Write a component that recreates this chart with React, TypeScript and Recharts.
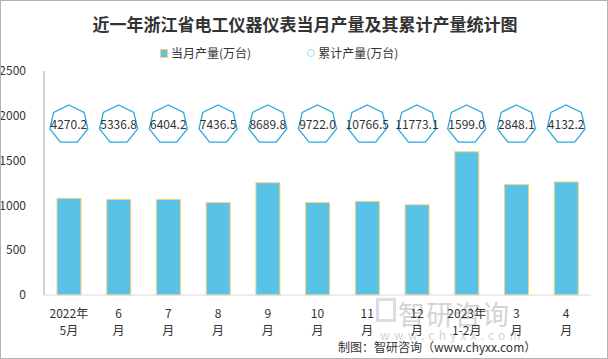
import { ComposedChart, Bar, Line, XAxis, YAxis } from 'recharts'

const months = ['2022年5月', '6月', '7月', '8月', '9月', '10月', '11月', '12月', '2023年1-2月', '3月', '4月']
const tickTop = ['2022年', '6', '7', '8', '9', '10', '11', '12', '2023年', '3', '4']
const tickBottom = ['5月', '月', '月', '月', '月', '月', '月', '月', '1-2月', '月', '月']
const monthly = [1079, 1067, 1067, 1032, 1253, 1032, 1045, 1007, 1599, 1232, 1262]
const cumulative = [4270.2, 5336.8, 6404.2, 7436.5, 8689.8, 9722.0, 10766.5, 11773.1, 1599.0, 2848.1, 4132.2]
const yTicks = [0, 500, 1000, 1500, 2000, 2500]

const data = months.map((m, i) => ({
  month: m,
  top: tickTop[i],
  bottom: tickBottom[i],
  value: monthly[i],
  cum: cumulative[i],
}))

const FONT = '"Noto Sans CJK SC", "Noto Sans", sans-serif'
const BAR_FILL = '#59c3e7'
const BAR_EDGE = '#f6d27a'
const HEPTA = '#27a9e1'

function MonthTick(props: any) {
  const { x, y, index } = props
  return (
    <g>
      <text x={x} y={y + 23} textAnchor="middle" fontSize={12} fill="#333">{tickTop[index]}</text>
      <text x={x} y={y + 40} textAnchor="middle" fontSize={12} fill="#333">{tickBottom[index]}</text>
    </g>
  )
}

function Heptagon(props: any) {
  const { cx, index, payload } = props
  if (cx == null) return null
  const cy = 124.5
  const r = 19.5
  const pts = Array.from({ length: 7 }, (_, k) => {
    const a = -Math.PI / 2 + (k * 2 * Math.PI) / 7
    return `${cx + r * Math.cos(a)},${cy + r * Math.sin(a)}`
  }).join(' ')
  return (
    <g key={`h-${index}`}>
      <polygon points={pts} fill="#fff" stroke={HEPTA} strokeWidth={1.3} />
      <text x={cx} y={cy + 4} textAnchor="middle" fontSize={12} fill="#333">
        {payload.cum.toFixed(1)}
      </text>
    </g>
  )
}

export default function App() {
  return (
    <div style={{ position: 'absolute', left: 0, top: 0, width: 608, height: 359, background: '#fff', fontFamily: FONT }}>
      {/* watermark */}
      <div style={{ position: 'absolute', left: 398, top: 294, fontSize: 27, color: '#d4d4d4', letterSpacing: 1 }}>智研咨询</div>
      <div style={{ position: 'absolute', left: 376, top: 298, width: 20, height: 24, border: '3px solid #d6dde6', boxSizing: 'border-box' }} />
      <div style={{ position: 'absolute', left: 380, top: 326, fontSize: 12, color: '#d4d4d4', letterSpacing: 4.2 }}>www.chyxx.com</div>

      <div style={{ position: 'absolute', left: 0, top: 12, width: 608, textAlign: 'center', paddingLeft: 1 }}>
        <span style={{ fontSize: 17, fontWeight: 'bold', color: '#333', lineHeight: '20px' }}>
          近一年浙江省电工仪器仪表当月产量及其累计产量统计图
        </span>
      </div>

      <div style={{ position: 'absolute', left: 160, top: 44, fontSize: 12, color: '#333', display: 'flex', alignItems: 'center', lineHeight: '18px' }}>
        <span style={{ display: 'inline-block', width: 6, height: 7, background: BAR_FILL, border: `1px solid ${BAR_EDGE}`, marginRight: 3 }} />
        <span>当月产量(万台)</span>
        <span style={{ display: 'inline-block', width: 6, height: 6, borderRadius: '50%', border: '1px solid #a8dcf2', marginLeft: 56, marginRight: 3 }} />
        <span>累计产量(万台)</span>
      </div>

      <ComposedChart
        width={608}
        height={359}
        data={data}
        margin={{ top: 71, right: 17, bottom: 0, left: 0 }}
        barCategoryGap={0}
        style={{ position: 'absolute', left: 0, top: 0 }}
      >
        <XAxis
          dataKey="month"
          interval={0}
          height={64}
          tickLine={false}
          tickSize={0}
          tickMargin={0}
          axisLine={{ stroke: '#d9d9d9' }}
          tick={<MonthTick />}
        />
        <YAxis
          yAxisId="left"
          domain={[0, 2500]}
          ticks={yTicks}
          width={44}
          tickLine={false}
          tickMargin={12}
          axisLine={{ stroke: '#a6a6a6' }}
          tick={{ fontSize: 12, fill: '#333' }}
        />
        <YAxis yAxisId="right" orientation="right" hide domain={[0, 20000]} />
        <Bar
          yAxisId="left"
          dataKey="value"
          barSize={24}
          fill={BAR_FILL}
          stroke={BAR_EDGE}
          strokeWidth={1}
          isAnimationActive={false}
        />
        <Line
          yAxisId="right"
          dataKey="cum"
          stroke="none"
          dot={<Heptagon />}
          activeDot={false}
          isAnimationActive={false}
        />
      </ComposedChart>

      <div style={{ position: 'absolute', left: 338, top: 338, fontSize: 12, color: '#333', whiteSpace: 'nowrap' }}>
        制图：智研咨询（www.chyxx.com）
      </div>
      <div style={{ position: 'absolute', left: 0, top: 0, width: 608, height: 359, border: '1px solid #b3b3b3', boxSizing: 'border-box', pointerEvents: 'none' }} />
    </div>
  )
}
